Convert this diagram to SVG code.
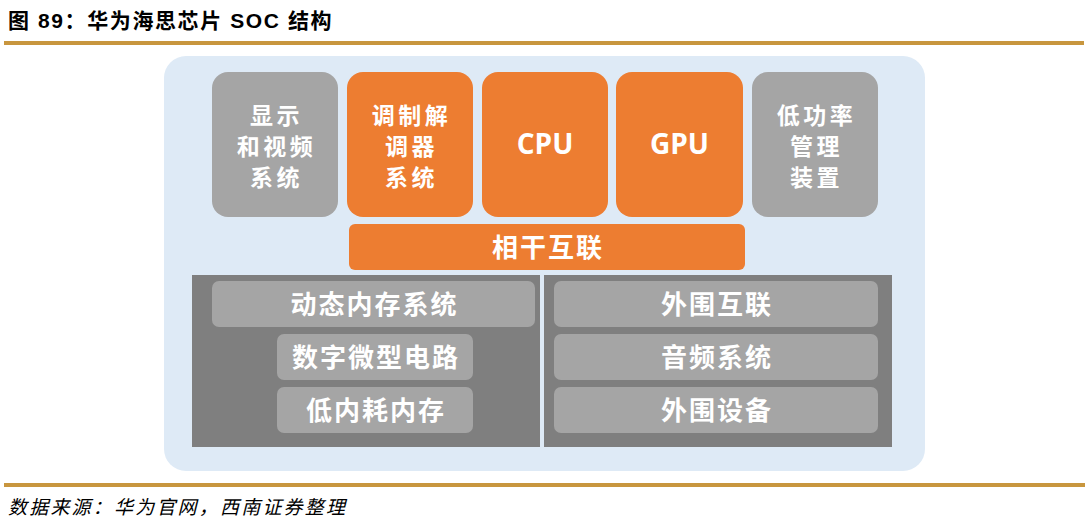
<svg xmlns="http://www.w3.org/2000/svg" width="1092" height="522" viewBox="0 0 1092 522">
<style>
.t{font-family:"Noto Sans CJK SC","Noto Sans",sans-serif;font-weight:bold;fill:#fff;text-anchor:middle;dominant-baseline:central}
.top{font-size:23px;letter-spacing:3.5px}
.low{font-size:26px;letter-spacing:2px}
.lat{font-family:"Open Sans","Noto Sans",sans-serif;font-weight:bold;font-size:28px;fill:#fff;text-anchor:middle;dominant-baseline:central}
.or{fill:#ED7D31}
.gr{fill:#A5A5A5}
.dk{fill:#7F7F7F}
.gold{fill:#C8963E}
</style>
<rect width="1092" height="522" fill="#fff"/>
<text x="8" y="28" font-family="'Liberation Sans','Noto Sans CJK SC',sans-serif" font-weight="bold" font-size="21" letter-spacing="1.6" fill="#000">图 89：华为海思芯片 SOC 结构</text>
<rect class="gold" x="4" y="41" width="1080" height="4"/>
<rect x="164" y="56" width="761" height="415" rx="22" fill="#DEEAF6"/>
<g id="display"><rect class="gr" x="212" y="72" width="126" height="145" rx="16"/>
<text class="t top" x="276.5" y="114">显示</text><text class="t top" x="276.5" y="145">和视频</text><text class="t top" x="276.5" y="176">系统</text></g>
<g id="modem"><rect class="or" x="347" y="72" width="126" height="145" rx="16"/>
<text class="t top" x="411.5" y="114">调制解</text><text class="t top" x="411.5" y="145">调器</text><text class="t top" x="411.5" y="176">系统</text></g>
<g id="cpu"><rect class="or" x="482" y="72" width="126" height="145" rx="16"/>
<text class="lat" x="545" y="143">CPU</text></g>
<g id="gpu"><rect class="or" x="616" y="72" width="127" height="145" rx="16"/>
<text class="lat" x="679.5" y="143">GPU</text></g>
<g id="lowpower"><rect class="gr" x="752" y="72" width="126" height="145" rx="16"/>
<text class="t top" x="816.5" y="114">低功率</text><text class="t top" x="816.5" y="145">管理</text><text class="t top" x="816.5" y="176">装置</text></g>
<g id="coherent"><rect class="or" x="349" y="224" width="396" height="46" rx="6"/>
<text class="t low" x="548" y="245.5">相干互联</text></g>
<g id="leftpanel"><rect class="dk" x="192" y="275" width="348" height="172"/></g>
<g id="rightpanel"><rect class="dk" x="544" y="275" width="348" height="172"/></g>
<g id="dram"><rect class="gr" x="212" y="281" width="323" height="46" rx="7"/><text class="t low" x="374.5" y="302">动态内存系统</text></g>
<g id="digital"><rect class="gr" x="277" y="334" width="196" height="46" rx="7"/><text class="t low" x="376" y="355.5">数字微型电路</text></g>
<g id="lpmem"><rect class="gr" x="277" y="387" width="196" height="46" rx="7"/><text class="t low" x="376" y="408.5">低内耗内存</text></g>
<g id="periph"><rect class="gr" x="554" y="281" width="324" height="46" rx="7"/><text class="t low" x="717" y="302">外围互联</text></g>
<g id="audio"><rect class="gr" x="554" y="334" width="324" height="46" rx="7"/><text class="t low" x="717" y="355.5">音频系统</text></g>
<g id="devices"><rect class="gr" x="554" y="387" width="324" height="46" rx="7"/><text class="t low" x="717" y="408.5">外围设备</text></g>
<g id="connectors"></g>
<rect class="gold" x="4" y="483" width="1081" height="4"/>
<text x="8" y="514" font-family="'Noto Sans CJK SC',sans-serif" font-style="italic" font-size="19" letter-spacing="2.2" fill="#000">数据来源：华为官网，西南证券整理</text>
</svg>
